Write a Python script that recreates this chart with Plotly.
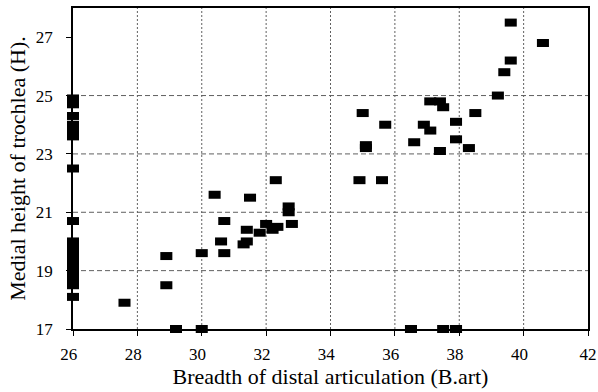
import plotly.graph_objects as go

# Breadth of distal articulation (B.art)
x_vals = [
    26.0, 26.0, 26.0, 26.0, 26.0, 26.0, 26.0,
    26.0, 26.0, 26.0, 26.0, 26.0, 26.0, 26.0, 26.0, 26.0, 26.0, 26.0,
    27.6, 28.9, 28.9, 29.2, 30.0, 30.0, 30.4, 30.6, 30.7, 30.7,
    31.5, 31.3, 31.4, 31.4, 31.8, 32.0, 32.2, 32.35, 32.3, 32.7, 32.7, 32.8,
    34.9, 35.0, 35.1, 35.1, 35.6, 35.7, 36.5, 36.6, 36.9, 37.1, 37.1, 37.4, 37.4,
    37.5, 37.5, 37.9, 37.9, 37.9, 38.3, 38.5, 39.2, 39.4, 39.6, 39.6, 40.6,
]
# Medial height of trochlea (H)
y_vals = [
    24.9, 24.7, 24.3, 24.0, 23.8, 23.6, 22.5,
    20.7, 20.0, 19.8, 19.6, 19.4, 19.2, 19.0, 18.8, 18.6, 18.5, 18.1,
    17.9, 19.5, 18.5, 17.0, 17.0, 19.6, 21.6, 20.0, 20.7, 19.6,
    21.5, 19.9, 20.0, 20.4, 20.3, 20.6, 20.4, 20.5, 22.1, 21.2, 21.0, 20.6,
    22.1, 24.4, 23.3, 23.2, 22.1, 24.0, 17.0, 23.4, 24.0, 24.8, 23.8, 24.8, 23.1,
    24.6, 17.0, 24.1, 23.5, 17.0, 23.2, 24.4, 25.0, 25.8, 27.5, 26.2, 26.8,
]

x_ticks = [26, 28, 30, 32, 34, 36, 38, 40, 42]
y_ticks = [17, 19, 21, 23, 25, 27]
x_grid = [28, 30, 32, 34, 36, 38, 40]
y_grid = [19, 21, 23, 25]

fig = go.Figure()
fig.add_trace(go.Scatter(
    x=x_vals, y=y_vals, mode="markers",
    marker=dict(symbol="line-ew", size=8.6, color="black",
                line=dict(width=8, color="black")),
    cliponaxis=False, showlegend=False,
))

shapes = []
for gx in x_grid:
    shapes.append(dict(type="line", xref="x", yref="paper", x0=gx, x1=gx, y0=0, y1=1,
                       line=dict(color="#606060", width=1, dash="2px,2px"), layer="below"))
for gy in y_grid:
    shapes.append(dict(type="line", xref="paper", yref="y", x0=0, x1=1, y0=gy, y1=gy,
                       line=dict(color="#606060", width=1, dash="5px,3px"), layer="below"))

font_family = "Liberation Serif, Times New Roman, serif"
tick_font = dict(family=font_family, size=17, color="black")
title_font = dict(family=font_family, size=22, color="black")

x_ticktext = [str(v) + "\u00a0\u00a0" for v in x_ticks[:-1]] + [str(x_ticks[-1])]

fig.update_layout(
    width=598, height=392,
    margin=dict(l=73, r=10, t=8, b=63),
    paper_bgcolor="white", plot_bgcolor="white",
    font=dict(family=font_family, color="black", size=17),
    shapes=shapes,
    xaxis=dict(
        range=[26, 42], tickvals=x_ticks, ticktext=x_ticktext,
        ticklabeloverflow="allow", automargin=False,
        showgrid=False, zeroline=False, showline=True, linecolor="black", linewidth=1.5,
        mirror=True, ticks="outside", ticklen=5, tickcolor="black", tickwidth=1,
        tickfont=tick_font, ticklabelstandoff=4,
        title=dict(text="Breadth of distal articulation (B.art)", font=title_font, standoff=2),
    ),
    yaxis=dict(
        range=[17, 28], tickvals=y_ticks, ticktext=[str(v) for v in y_ticks],
        showgrid=False, zeroline=False, showline=True, linecolor="black", linewidth=1.5,
        mirror=True, ticks="outside", ticklen=5, tickcolor="black", tickwidth=1,
        tickfont=tick_font, ticklabelstandoff=10, automargin=False,
        title=dict(text="Medial height of trochlea (H).", font=title_font, standoff=4),
    ),
)

fig.write_html("out.html")
